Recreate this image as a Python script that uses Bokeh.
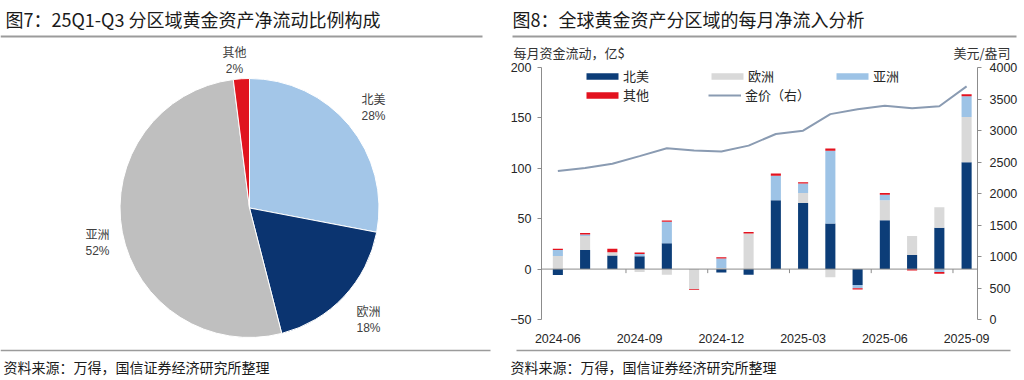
import numpy as np
from bokeh.plotting import figure
from bokeh.models import Range1d, LinearAxis, FixedTicker, Span, Legend, LegendItem, ColumnDataSource
from bokeh.layouts import row, column
from bokeh.embed import file_html
from bokeh.resources import INLINE
from bokeh.core.properties import value

# ---------------- data ----------------
title_left = "图7：25Q1-Q3 分区域黄金资产净流动比例构成"
title_right = "图8：全球黄金资产分区域的每月净流入分析"
source_note = "资料来源：万得，国信证券经济研究所整理"
flow_axis_title = "每月资金流动，亿$"
price_axis_title = "美元/盎司"

pie_regions = ["北美", "欧洲", "亚洲", "其他"]
pie_shares = [28, 18, 52, 2]
pie_colors = ["#A3C6E8", "#0B3470", "#BFBFBF", "#E0141E"]

months = ["2024-06", "2024-07", "2024-08", "2024-09", "2024-10", "2024-11",
          "2024-12", "2025-01", "2025-02", "2025-03", "2025-04", "2025-05",
          "2025-06", "2025-07", "2025-08", "2025-09"]
north_america = [-5.9, 19.0, 13.4, 12.8, 25.6, 0.0, -3.3, -5.6, 68.2, 65.6, 45.2, -15.7, 48.5, 14.1, 41.0, 105.9]
europe = [13.1, 13.8, 3.3, -3.0, -5.6, -20.0, 1.0, 35.4, 0.0, 9.8, -8.2, 0.0, 19.7, 18.7, 20.3, 44.9]
asia = [5.9, 1.6, 0.0, 2.3, 21.3, 0.0, 9.5, 0.0, 24.3, 9.5, 72.1, -3.3, 5.6, 0.0, -3.0, 20.7]
others = [1.3, 1.3, 3.6, 1.3, 1.2, -0.8, 1.3, 1.3, 2.3, 1.3, 2.3, -1.2, 1.6, -1.3, -1.5, 2.0]
gold_price = [2356, 2404, 2472, 2593, 2719, 2682, 2666, 2760, 2945, 2997, 3260, 3339, 3391, 3355, 3385, 3700]
series_names = ["北美", "欧洲", "亚洲", "其他"]
series_colors = ["#0C3D78", "#D9D9D9", "#9DC3E6", "#E3121F"]
gold_name = "金价（右）"
gold_color = "#8A9BB2"
label_every = 3
flow_ticks = [-50, 0, 50, 100, 150, 200]
price_ticks = [0, 500, 1000, 1500, 2000, 2500, 3000, 3500, 4000]

# ---------------- style ----------------
CJK = "Noto Sans CJK SC"
NUM = "Liberation Sans"
TXT = "#262626"
AX = "#8C8C8C"
RULE = "#9B9B9B"
PAGE_H = 380


def Y(py):
    return PAGE_H - py


def canvas(x0, y0, w, h):
    p = figure(width=w, height=h, x_range=Range1d(x0, x0 + w),
               y_range=Range1d(PAGE_H - (y0 + h), PAGE_H - y0),
               output_backend="svg", toolbar_location=None,
               x_axis_type=None, y_axis_type=None, min_border=0,
               outline_line_color=None)
    p.grid.visible = False
    return p


def put_text(p, x, y, txt, size, align="left", color=TXT, font=CJK):
    p.text(x=[x], y=[Y(y)], text=[txt], text_font=value(font), text_font_size=size,
           text_align=align, text_baseline="middle", text_color=color)


# ---------------- left: pie ----------------
L = canvas(0, 0, 504, 380)
put_text(L, 5, 18, title_left, "18px", color="#1A1A1A")
L.segment(x0=[0], y0=[Y(36)], x1=[482], y1=[Y(36)], line_color=RULE, line_width=2)

total = float(sum(pie_shares))
cum = np.cumsum([0] + pie_shares) / total
ends = [np.pi / 2 - 2 * np.pi * cum[i] for i in range(len(pie_shares))]
starts = [np.pi / 2 - 2 * np.pi * cum[i + 1] for i in range(len(pie_shares))]
pie_src = ColumnDataSource(dict(start=starts, end=ends, color=pie_colors))
L.wedge(x=249, y=Y(207.5), radius=129.5, start_angle="start", end_angle="end",
        fill_color="color", line_color="white", line_width=1, source=pie_src)

pie_label_pos = [(373, 98), (368, 310), (97, 233), (234, 51)]
for name, share, (lx, ly) in zip(pie_regions, pie_shares, pie_label_pos):
    put_text(L, lx, ly, name, "12px", align="center", color="#404040")
    put_text(L, lx, ly + 17, f"{share}%", "12px", align="center", color="#404040", font=NUM)

L.segment(x0=[0], y0=[Y(350)], x1=[490], y1=[Y(350)], line_color=RULE, line_width=1.5)
put_text(L, 3, 366, source_note, "14px", color="#1A1A1A")

# ---------------- right: header ----------------
RT = canvas(504, 0, 520, 62)
put_text(RT, 512, 18, title_right, "18px", color="#1A1A1A")
RT.segment(x0=[512], y0=[Y(36)], x1=[1016], y1=[Y(36)], line_color=RULE, line_width=2)
put_text(RT, 513, 52, flow_axis_title, "13px", color="#333333")
put_text(RT, 953, 52, price_axis_title, "13px", color="#333333")

# ---------------- right: bar chart ----------------
n = len(months)
xs = np.arange(n)
P = figure(width=520, height=283, x_range=Range1d(-0.6, 15.4), y_range=Range1d(-50, 200),
           output_backend="svg", toolbar_location=None,
           min_border_left=37, min_border_right=47, min_border_top=5, min_border_bottom=24,
           outline_line_color=None)
P.xgrid.visible = False
P.ygrid.visible = False

pos_base = np.zeros(n)
neg_base = np.zeros(n)
bar_renderers = []
for vals, color in zip([north_america, europe, asia, others], series_colors):
    v = np.array(vals, dtype=float)
    bottom = np.where(v >= 0, pos_base, neg_base)
    top = bottom + v
    pos_base = np.where(v >= 0, top, pos_base)
    neg_base = np.where(v < 0, top, neg_base)
    r = P.vbar(x=xs, bottom=bottom, top=top, width=0.37, fill_color=color, line_color=None)
    bar_renderers.append(r)

P.add_layout(Span(location=0, dimension="width", line_color=AX, line_width=1))
tick_pos = [i - 0.5 for i in range(label_every, n, label_every)]
P.segment(x0=tick_pos, y0=[0] * len(tick_pos), x1=tick_pos, y1=[-4] * len(tick_pos),
          line_color=AX, line_width=1)

P.extra_y_ranges = {"price": Range1d(0, 4000)}
gold_r = P.line(x=xs, y=gold_price, y_range_name="price", line_color=gold_color, line_width=2)

xa = P.xaxis[0]
xa.ticker = FixedTicker(ticks=list(range(0, n, label_every)))
xa.major_label_overrides = {i: months[i] for i in range(0, n, label_every)}
xa.axis_line_color = None
xa.major_tick_line_color = None
xa.minor_tick_line_color = None
xa.major_label_standoff = 8
xa.major_label_text_font = NUM
xa.major_label_text_font_size = "12.5px"
xa.major_label_text_color = TXT

ya = P.yaxis[0]
ya.ticker = FixedTicker(ticks=flow_ticks)
ya.axis_line_color = AX
ya.major_tick_line_color = AX
ya.major_tick_out = 4
ya.major_tick_in = 0
ya.minor_tick_line_color = None
ya.major_label_standoff = 6
ya.major_label_text_font = NUM
ya.major_label_text_font_size = "12.5px"
ya.major_label_text_color = TXT

ra = LinearAxis(y_range_name="price", ticker=FixedTicker(ticks=price_ticks))
ra.axis_line_color = AX
ra.major_tick_line_color = AX
ra.major_tick_out = 4
ra.major_tick_in = 0
ra.minor_tick_line_color = None
ra.major_label_standoff = 8
ra.major_label_text_font = NUM
ra.major_label_text_font_size = "12.5px"
ra.major_label_text_color = TXT
P.add_layout(ra, "right")

legend_slots = [(41, 234), (166, 234), (291, 234), (41, 215)]
for name, r, loc in zip(series_names, bar_renderers, legend_slots):
    lg = Legend(items=[LegendItem(label=name, renderers=[r])], location=loc,
                glyph_width=40, glyph_height=8, label_height=16, label_standoff=1,
                padding=0, margin=0, spacing=0, border_line_color=None,
                background_fill_alpha=0, label_text_font=CJK,
                label_text_font_size="13px", label_text_color=TXT)
    P.add_layout(lg)
lg = Legend(items=[LegendItem(label=gold_name, renderers=[gold_r])], location=(167, 215),
            glyph_width=33, glyph_height=8, label_height=16, label_standoff=4,
            padding=0, margin=0, spacing=0, border_line_color=None,
            background_fill_alpha=0, label_text_font=CJK,
            label_text_font_size="13px", label_text_color=TXT)
P.add_layout(lg)

# ---------------- right: footer ----------------
RB = canvas(504, 345, 520, 35)
RB.segment(x0=[516], y0=[Y(350)], x1=[1010], y1=[Y(350)], line_color=RULE, line_width=1.5)
put_text(RB, 510, 366, source_note, "14px", color="#1A1A1A")

# wrap the chart in its own row so the header/footer canvases are not frame-aligned to it
right = column(RT, row(P), RB)
layout = row(L, right)
open("out.html", "w").write(file_html(layout, INLINE))
